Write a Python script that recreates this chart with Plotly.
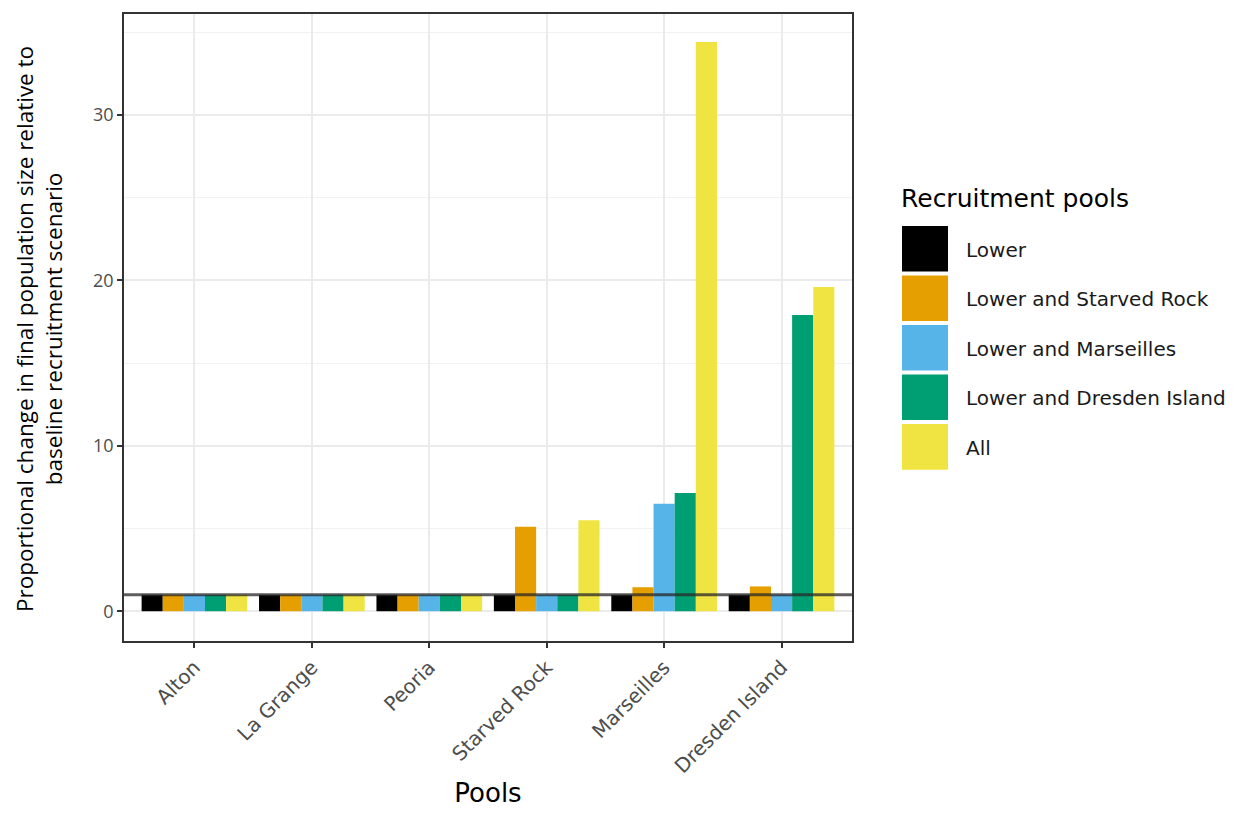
import plotly.graph_objects as go

pools = ["Alton", "La Grange", "Peoria", "Starved Rock", "Marseilles", "Dresden Island"]
scenarios = ["Lower", "Lower and Starved Rock", "Lower and Marseilles",
             "Lower and Dresden Island", "All"]
colors = ["#000000", "#E69F00", "#56B4E9", "#009E73", "#F0E442"]

lower = [1.0, 1.0, 1.0, 1.0, 1.0, 1.0]
lower_starved = [1.0, 1.0, 1.0, 5.1, 1.45, 1.5]
lower_marseilles = [1.0, 1.0, 1.0, 1.0, 6.5, 1.0]
lower_dresden = [1.0, 1.0, 1.0, 1.0, 7.15, 17.9]
all_pools = [1.0, 1.0, 1.0, 5.5, 34.4, 19.6]
series = [lower, lower_starved, lower_marseilles, lower_dresden, all_pools]

BASELINE = 1.0
y_ticks = [0, 10, 20, 30]

fig = go.Figure()
for name, vals, col in zip(scenarios, series, colors):
    fig.add_trace(go.Bar(x=pools, y=vals, name=name, marker=dict(color=col, line=dict(width=0)),
                         showlegend=False))

fig.add_hline(y=BASELINE, line=dict(color="rgba(40,40,40,0.75)", width=3), layer="above")

# page coordinates of the plotting panel (figure is offset 8px by the page margin)
OFF = 8
W, H = 1236 - 2 * OFF, 816 - 2 * OFF
L, R, T, B = 124, 852, 12, 645
pw, ph = R - L, B - T
def px(x): return (x - L) / pw
def py(y): return (B - y) / ph

LEG_FONT = "DejaVu Sans, Liberation Sans, Arial"
fig.add_annotation(text="Recruitment pools", xref="paper", yref="paper",
                   x=px(899), y=py(198), xanchor="left", yanchor="middle", showarrow=False,
                   font=dict(family=LEG_FONT, size=25, color="#000000"))
for i, (name, col) in enumerate(zip(scenarios, colors)):
    top = 226 + 50 * i
    fig.add_shape(type="rect", xref="paper", yref="paper",
                  x0=px(902), x1=px(948), y0=py(top + 46), y1=py(top),
                  fillcolor=col, line=dict(width=0))
    fig.add_annotation(text=name, xref="paper", yref="paper",
                       x=px(964), y=py(top + 24), xanchor="left", yanchor="middle", showarrow=False,
                       font=dict(family=LEG_FONT, size=20, color="#1a1a1a"))

fig.add_annotation(text="Proportional change in final population size relative to<br>baseline recruitment scenario",
                   xref="paper", yref="paper", x=px(39), y=py(330), textangle=-90,
                   xanchor="center", yanchor="middle", showarrow=False,
                   font=dict(family="Open Sans, Lato", size=22.5, color="#000000"))

fig.update_layout(
    width=W, height=H,
    margin=dict(l=L - OFF, r=W - (R - OFF), t=T - OFF, b=H - (B - OFF)),
    paper_bgcolor="white", plot_bgcolor="white",
    barmode="group", bargap=0.1, bargroupgap=0,
    showlegend=False,
    xaxis=dict(
        range=[-0.6, 5.6], tickangle=-45,
        tickfont=dict(family=LEG_FONT, size=20, color="#4D4D4D"),
        showgrid=True, gridcolor="#EBEBEB", gridwidth=1.5,
        showline=True, linecolor="#333333", linewidth=1.5, mirror=True,
        ticks="outside", ticklen=5, tickcolor="#333333", tickwidth=1.5,
        title=dict(text="Pools", font=dict(family=LEG_FONT, size=26, color="#000000"),
                   standoff=8),
    ),
    yaxis=dict(
        range=[-1.8, 36.1], tickvals=y_ticks,
        tickfont=dict(family="Open Sans, Lato", size=18, color="#4D4D4D"),
        showgrid=True, gridcolor="#EBEBEB", gridwidth=1.5, zeroline=False,
        minor=dict(dtick=5, tick0=5, showgrid=True, gridcolor="#F2F2F2", gridwidth=0.8),
        showline=True, linecolor="#333333", linewidth=1.5, mirror=True,
        ticks="outside", ticklen=5, tickcolor="#333333", tickwidth=1.5,
    ),
)

fig.write_html("out.html")
